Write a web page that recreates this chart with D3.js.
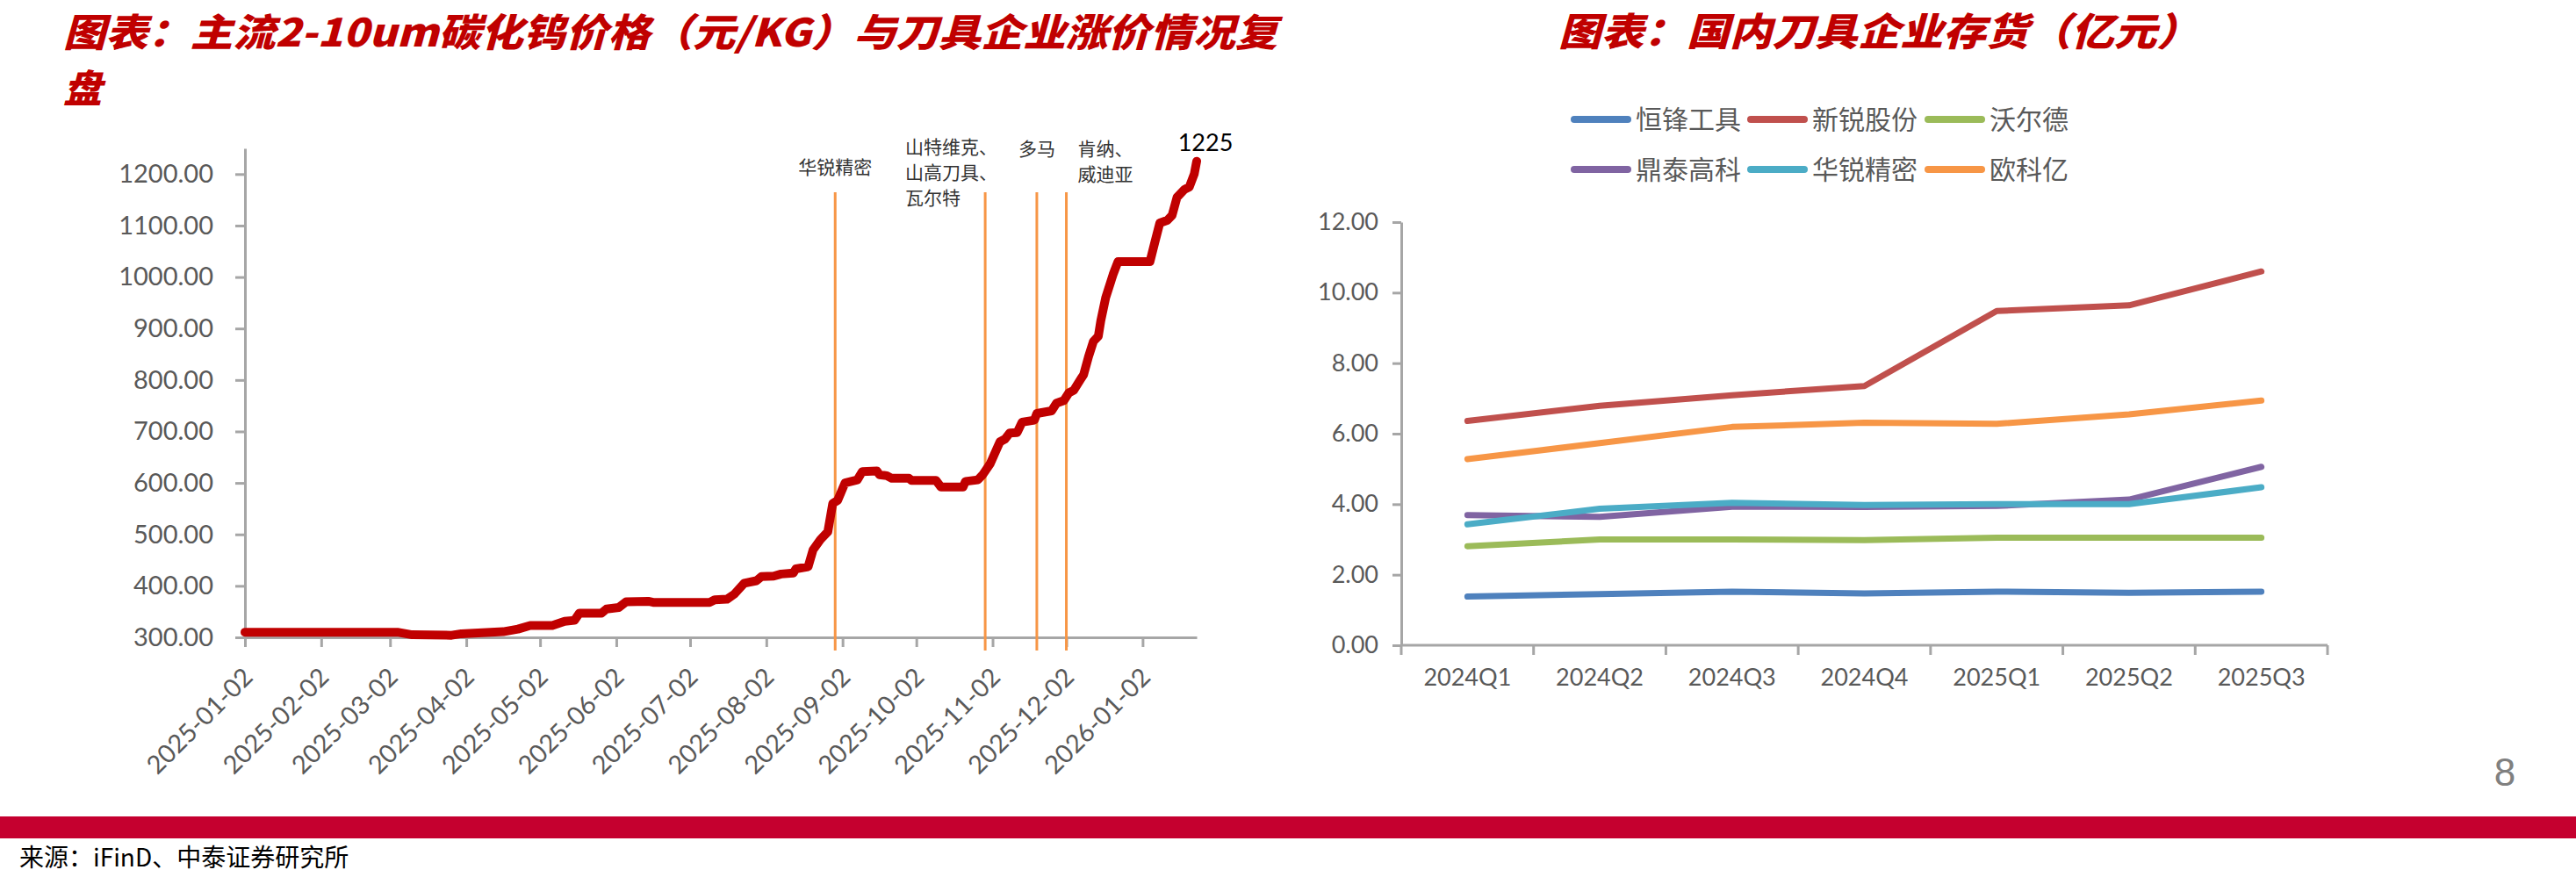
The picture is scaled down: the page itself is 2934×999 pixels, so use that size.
<!DOCTYPE html>
<html><head><meta charset="utf-8">
<script src="https://cdn.jsdelivr.net/npm/d3@7"></script>
<style>body{margin:0;background:#fff;} svg{display:block}</style>
</head><body>
<script>
// ---------------- DATA ----------------
// Left chart: mainstream 2-10um tungsten carbide price (yuan/kg)
const priceDates = ["2025-01-02","2025-03-05","2025-03-11","2025-03-27","2025-03-31","2025-04-17","2025-04-23","2025-04-28","2025-05-07","2025-05-12","2025-05-16","2025-05-18","2025-05-27","2025-05-29","2025-06-03","2025-06-06","2025-06-15","2025-06-17","2025-07-10","2025-07-12","2025-07-17","2025-07-20","2025-07-24","2025-07-29","2025-07-31","2025-08-05","2025-08-08","2025-08-13","2025-08-14","2025-08-19","2025-08-21","2025-08-24","2025-08-27","2025-08-29","2025-08-31","2025-09-03","2025-09-08","2025-09-10","2025-09-16","2025-09-17","2025-09-20","2025-09-22","2025-09-29","2025-09-30","2025-10-10","2025-10-12","2025-10-21","2025-10-22","2025-10-27","2025-10-29","2025-11-01","2025-11-05","2025-11-07","2025-11-09","2025-11-12","2025-11-14","2025-11-19","2025-11-20","2025-11-26","2025-11-28","2025-12-01","2025-12-03","2025-12-05","2025-12-08","2025-12-09","2025-12-11","2025-12-13","2025-12-15","2025-12-16","2025-12-18","2025-12-20","2025-12-21","2025-12-23","2026-01-05","2026-01-07","2026-01-09","2026-01-12","2026-01-14","2026-01-16","2026-01-19","2026-01-21","2026-01-23","2026-01-24"];
const priceValues = [310,310,305,304,307,311,316,323,323,331,333,347,347,355,358,369,370,368,368,373,374,384,405,410,418,419,423,425,433,437,470,490,505,560,566,600,606,622,623,616,614,609,609,605,605,592,592,603,606,616,637,680,685,697,698,718,722,735,740,755,760,775,780,803,810,845,875,885,915,960,990,1005,1030,1030,1068,1105,1110,1120,1155,1170,1175,1200,1225];
const lastPriceLabel = "1225";
const priceTicks = [300,400,500,600,700,800,900,1000,1100,1200];
const dateTicks = ["2025-01-02","2025-02-02","2025-03-02","2025-04-02","2025-05-02","2025-06-02","2025-07-02","2025-08-02","2025-09-02","2025-10-02","2025-11-02","2025-12-02","2026-01-02"];
const eventDates = ["2025-08-30","2025-10-30","2025-11-20","2025-12-02"];
const eventLabels = [["华锐精密"],["山特维克、","山高刀具、","瓦尔特"],["多马"],["肯纳、","威迪亚"]];

// Right chart: inventory of domestic tool companies (100 million yuan)
const quarters = ["2024Q1","2024Q2","2024Q3","2024Q4","2025Q1","2025Q2","2025Q3"];
const companies = ["恒锋工具","新锐股份","沃尔德","鼎泰高科","华锐精密","欧科亿"];
const hengfeng = [1.38,1.45,1.52,1.47,1.52,1.49,1.52];
const xinrui   = [6.36,6.79,7.09,7.35,9.48,9.64,10.6];
const woerde   = [2.81,3.00,3.00,2.98,3.05,3.05,3.05];
const dingtai  = [3.69,3.64,3.93,3.92,3.95,4.13,5.06];
const huarui   = [3.43,3.87,4.04,3.98,4.00,4.00,4.48];
const oukeyi   = [5.28,5.73,6.19,6.31,6.28,6.55,6.94];
const inventoryTicks = [0,2,4,6,8,10,12];

const titleLeft1 = "图表：主流2-10um碳化钨价格（元/KG）与刀具企业涨价情况复";
const titleLeft2 = "盘";
const titleRight = "图表：国内刀具企业存货（亿元）";
const sourceText = "来源：iFinD、中泰证券研究所";
const pageNumber = "8";

// ---------------- DRAW ----------------
const W = 2934, H = 999;
const svg = d3.select("body").append("svg").attr("width", W).attr("height", H);
svg.append("rect").attr("width", W).attr("height", H).attr("fill", "#fff");
const parse = d3.timeParse("%Y-%m-%d");
const axisColor = "#A6A6A6";
const labelColor = "#595959";
const latin = "Lato, 'Open Sans', sans-serif";
const cjk = "'Noto Sans CJK SC', sans-serif";

// Titles
svg.append("text").attr("x", 72).attr("y", 53).text(titleLeft1)
  .attr("font-family", cjk).attr("font-weight", 900).attr("font-style", "italic")
  .attr("font-size", 44).attr("fill", "#C00000")
  .attr("textLength", 1383).attr("lengthAdjust", "spacingAndGlyphs");
svg.append("text").attr("x", 72).attr("y", 117).text(titleLeft2)
  .attr("font-family", cjk).attr("font-weight", 900).attr("font-style", "italic")
  .attr("font-size", 44).attr("fill", "#C00000");
svg.append("text").attr("x", 1775).attr("y", 52).text(titleRight)
  .attr("font-family", cjk).attr("font-weight", 900).attr("font-style", "italic")
  .attr("font-size", 44).attr("fill", "#C00000")
  .attr("textLength", 730).attr("lengthAdjust", "spacingAndGlyphs");

// ---- Left chart ----
const xL = d3.scaleTime().domain([parse("2025-01-02"), parse("2026-01-24")]).range([279, 1363]);
const yL = d3.scaleLinear().domain([300, 1250]).range([726, 169]);

const gL = svg.append("g");
// y axis
const yAxL = gL.append("g").attr("transform", "translate(279,0)")
  .call(d3.axisLeft(yL).tickValues(priceTicks).tickSize(11).tickSizeOuter(0).tickPadding(25).tickFormat(d3.format(".2f")));
yAxL.select(".domain").attr("stroke", axisColor).attr("stroke-width", 3);
yAxL.selectAll(".tick line").attr("stroke", axisColor).attr("stroke-width", 3);
yAxL.selectAll(".tick text").attr("font-family", latin).attr("font-size", 29).attr("fill", labelColor);

// x axis
const xAxL = gL.append("g").attr("transform", "translate(0,726)")
  .call(d3.axisBottom(xL).tickValues(dateTicks.map(parse)).tickSize(11).tickSizeOuter(0).tickFormat(d3.timeFormat("%Y-%m-%d")));
xAxL.select(".domain").attr("stroke", axisColor).attr("stroke-width", 3);
xAxL.selectAll(".tick line").attr("stroke", axisColor).attr("stroke-width", 3);
xAxL.selectAll(".tick text").attr("font-family", latin).attr("font-size", 29).attr("fill", labelColor)
  .attr("x", 0).attr("y", 0).attr("dy", "0.35em").attr("text-anchor", "end")
  .attr("transform", "translate(3,40) rotate(-45)");

// event lines
const evX = eventDates.map(d => xL(parse(d)));
gL.selectAll("line.ev").data(evX).join("line").attr("class", "ev")
  .attr("x1", d => d).attr("x2", d => d).attr("y1", 219).attr("y2", 741)
  .attr("stroke", "#F79646").attr("stroke-width", 3);

// event labels (layout offsets relative to event line)
const evLayout = [{dx: 0, anchor: "middle", y0: 198}, {dx: -91, anchor: "start", y0: 175},
                  {dx: 0, anchor: "middle", y0: 177}, {dx: 13, anchor: "start", y0: 177}];
eventLabels.forEach((lines, i) => {
  lines.forEach((t, j) => {
    gL.append("text").attr("x", evX[i] + evLayout[i].dx).attr("y", evLayout[i].y0 + j * 29)
      .attr("text-anchor", evLayout[i].anchor).text(t)
      .attr("font-family", cjk).attr("font-size", 21).attr("fill", "#333");
  });
});

// price line
const priceData = priceDates.map((d, i) => ({date: parse(d), v: priceValues[i]}));
gL.append("path").datum(priceData)
  .attr("d", d3.line().x(d => xL(d.date)).y(d => yL(d.v)))
  .attr("fill", "none").attr("stroke", "#C00000").attr("stroke-width", 10)
  .attr("stroke-linejoin", "round").attr("stroke-linecap", "round");

const last = priceData[priceData.length - 1];
gL.append("text").attr("x", xL(last.date) + 10).attr("y", yL(last.v) - 12)
  .attr("text-anchor", "middle").text(lastPriceLabel)
  .attr("font-family", latin).attr("font-size", 27).attr("fill", "#000");

// ---- Right chart ----
const xR = d3.scaleBand().domain(quarters).range([1596, 2651]);
const yR = d3.scaleLinear().domain([0, 12]).range([735, 253]);
const gR = svg.append("g");

const yAxR = gR.append("g").attr("transform", "translate(1596,0)")
  .call(d3.axisLeft(yR).tickValues(inventoryTicks).tickSize(10).tickSizeOuter(0).tickPadding(16).tickFormat(d3.format(".2f")));
yAxR.select(".domain").attr("stroke", axisColor).attr("stroke-width", 3);
yAxR.selectAll(".tick line").attr("stroke", axisColor).attr("stroke-width", 3);
yAxR.selectAll(".tick text").attr("font-family", latin).attr("font-size", 27).attr("fill", labelColor);

// x axis (category boundaries ticks)
gR.append("line").attr("x1", 1596).attr("x2", 2651).attr("y1", yR(0)).attr("y2", yR(0))
  .attr("stroke", axisColor).attr("stroke-width", 3);
const bounds = quarters.map(q => xR(q)).concat([xR.range()[1]]);
gR.selectAll("line.xt").data(bounds).join("line").attr("class", "xt")
  .attr("x1", d => d).attr("x2", d => d).attr("y1", yR(0)).attr("y2", yR(0) + 11)
  .attr("stroke", axisColor).attr("stroke-width", 3);
gR.selectAll("text.xl").data(quarters).join("text").attr("class", "xl")
  .attr("x", d => xR(d) + xR.bandwidth() / 2).attr("y", 772).attr("dy", "0.35em")
  .attr("text-anchor", "middle").text(d => d)
  .attr("font-family", latin).attr("font-size", 27).attr("fill", labelColor);

const series = [hengfeng, xinrui, woerde, dingtai, huarui, oukeyi];
const colors = ["#4F81BD", "#C0504D", "#9BBB59", "#8064A2", "#4BACC6", "#F79646"];
const lineR = d3.line().x((d, i) => xR(quarters[i]) + xR.bandwidth() / 2).y(d => yR(d));
series.forEach((s, i) => {
  gR.append("path").datum(s).attr("d", lineR).attr("fill", "none")
    .attr("stroke", colors[i]).attr("stroke-width", 7)
    .attr("stroke-linejoin", "round").attr("stroke-linecap", "round");
});

// legend
const legX = [1789, 1990, 2192];
const legY = [136, 193];
companies.forEach((c, i) => {
  const col = i % 3, row = Math.floor(i / 3);
  gR.append("line").attr("x1", legX[col] + 4).attr("x2", legX[col] + 65)
    .attr("y1", legY[row]).attr("y2", legY[row])
    .attr("stroke", colors[i]).attr("stroke-width", 8).attr("stroke-linecap", "round");
  gR.append("text").attr("x", legX[col] + 74).attr("y", legY[row]).attr("dy", "0.36em")
    .text(c).attr("font-family", cjk).attr("font-size", 30).attr("fill", labelColor);
});

// ---- Page footer ----
svg.append("text").attr("x", 2853).attr("y", 879).attr("dy", "0.36em").attr("text-anchor", "middle")
  .text(pageNumber).attr("font-family", "'Liberation Sans', sans-serif").attr("font-size", 44).attr("fill", "#808080");
svg.append("rect").attr("x", 0).attr("y", 930).attr("width", W).attr("height", 25).attr("fill", "#C5002F");
svg.append("text").attr("x", 22).attr("y", 977).attr("dy", "0.36em").text(sourceText)
  .attr("font-family", cjk).attr("font-size", 28).attr("fill", "#000");
</script>
</body></html>
